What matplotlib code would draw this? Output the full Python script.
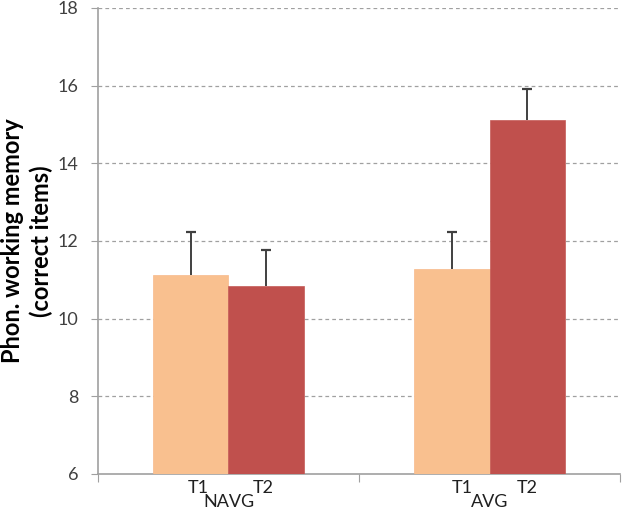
import matplotlib
matplotlib.use("Agg")
import matplotlib.pyplot as plt
import numpy as np

groups = ["NAVG", "AVG"]
series = ["T1", "T2"]
t1_vals = [11.12, 11.28]
t2_vals = [10.84, 15.12]
t1_err = [1.11, 0.95]
t2_err = [0.93, 0.80]
yticks = [6, 8, 10, 12, 14, 16, 18]

plt.rcParams['font.family'] = ['Lato', 'DejaVu Sans']

fig = plt.figure(figsize=(6.4, 5.09), dpi=100)
ax = fig.add_axes([0.153, 0.0688, 0.816, 0.9155])

x = np.arange(len(groups))
w = 0.29
c1 = "#F9C08F"
c2 = "#C0504D"
ax.bar(x - w/2, t1_vals, w, color=c1, edgecolor="#F7B98A", linewidth=0.5, zorder=3)
ax.bar(x + w/2, t2_vals, w, color=c2, edgecolor="#C55A57", linewidth=0.5, zorder=3)

ecol = "#404040"
for xs, vals, errs in [(x - w/2, t1_vals, t1_err), (x + w/2, t2_vals, t2_err)]:
    tops = np.array(vals) + np.array(errs)
    ax.vlines(xs, vals, tops, color=ecol, linewidth=1.4, zorder=4)
    ax.plot(xs, tops, linestyle='none', marker='_', markersize=7, markeredgewidth=1.6,
            color=ecol, zorder=4)

ax.set_ylim(6, 18)
ax.set_xlim(-0.5, 1.5)
ax.set_yticks(yticks)
ax.set_yticklabels([str(v) for v in yticks], fontsize=13, color="#404040")
for v in yticks[1:]:
    ax.axhline(v, color="#A0A0A0", linestyle=(0, (3, 2.5)), linewidth=0.9, zorder=1)

ax.set_xticks([-0.5, 0.5, 1.5])
ax.set_xticklabels([])
ax.tick_params(axis='x', length=6, color="#A0A0A0", direction='out')
ax.tick_params(axis='y', length=5, color="#A0A0A0", direction='out', pad=9)

for s in ["top", "right"]:
    ax.spines[s].set_visible(False)
ax.spines["left"].set_color("#A0A0A0")
ax.spines["bottom"].set_color("#A0A0A0")
ax.spines["left"].set_linewidth(1.2)
ax.spines["bottom"].set_linewidth(1.2)

trans = ax.get_xaxis_transform()
offs1 = [0.03, 0.04]
offs2 = [-0.01, 0.0]
for i, g in enumerate(groups):
    ax.text(i - w/2 + offs1[i], -0.012, series[0], transform=trans, ha='center', va='top',
            fontsize=13, color="#202020")
    ax.text(i + w/2 + offs2[i], -0.012, series[1], transform=trans, ha='center', va='top',
            fontsize=13, color="#202020")
    ax.text(i, -0.043, g, transform=trans, ha='center', va='top',
            fontsize=13, color="#202020")

ax.set_ylabel("Phon. working memory\n(correct items)", fontsize=17, fontweight='bold',
              color="#000000", linespacing=1.3, va='center')
ax.yaxis.set_label_coords(-0.136, 0.5)

fig.savefig("out.png", dpi=100)
